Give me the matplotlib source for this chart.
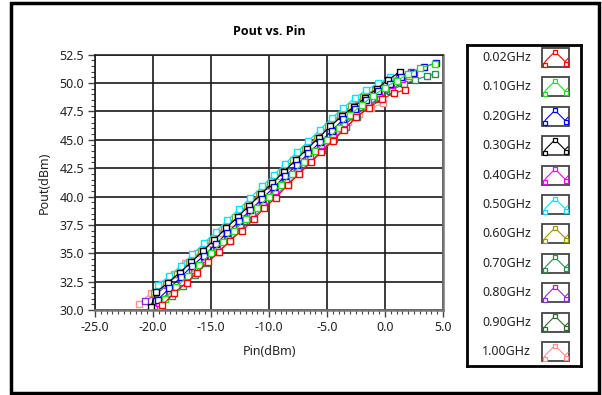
import matplotlib
matplotlib.use("Agg")
import matplotlib.pyplot as plt
from matplotlib.patches import Rectangle
from matplotlib.ticker import MultipleLocator, FormatStrFormatter

plt.rcParams['font.family'] = ['Noto Sans', 'DejaVu Sans']
plt.rcParams['axes.unicode_minus'] = False

# data (Pin dBm, Pout dBm)
labels = ['0.02GHz', '0.10GHz', '0.20GHz', '0.30GHz', '0.40GHz', '0.50GHz',
          '0.60GHz', '0.70GHz', '0.80GHz', '0.90GHz', '1.00GHz']
colors = ['#ff0000', '#22dd22', '#0000ff', '#000000', '#ff00ff', '#00e5ff',
          '#9a9a00', '#2e8b57', '#8a2be2', '#2f6b2f', '#ff9090']

pin_002 = [-19.2, -18.2, -17.1, -16.2, -15.3, -14.3, -13.4, -12.3, -11.3, -10.4, -9.4,
           -8.4, -7.4, -6.4, -5.5, -4.5, -3.5, -2.5, -1.4, -0.3, 0.8, 1.7]
pout_002 = [30.4, 31.5, 32.4, 33.3, 34.2, 35.1, 36.1, 37.0, 38.0, 39.0, 39.9,
            41.0, 42.0, 43.0, 43.9, 44.9, 45.9, 47.0, 47.8, 48.6, 49.1, 49.4]

pin_010 = [-19.0, -18.0, -17.0, -16.0, -15.0, -14.0, -13.0, -12.0, -11.0, -10.0, -9.0, -8.0,
           -7.0, -6.0, -5.0, -4.0, -3.0, -2.0, -1.0, 0.0, 1.0, 2.0, 3.0, 4.3]
pout_010 = [31.0, 32.0, 33.0, 34.0, 35.0, 36.0, 37.0, 38.0, 39.0, 40.0, 41.0, 42.0,
            43.0, 44.0, 45.0, 46.0, 47.2, 48.1, 48.9, 49.6, 50.2, 50.8, 51.3, 51.7]

pin_020 = [-19.6, -18.6, -17.6, -16.6, -15.6, -14.6, -13.6, -12.6, -11.6, -10.6, -9.6, -8.6, -7.6,
           -6.6, -5.6, -4.6, -3.6, -2.6, -1.6, -0.6, 0.4, 1.4, 2.4, 3.4, 4.4]
pout_020 = [30.9, 31.9, 32.9, 33.9, 34.8, 35.8, 36.8, 37.8, 38.8, 39.8, 40.8, 41.8, 42.8,
            43.8, 44.8, 45.8, 46.8, 47.7, 48.5, 49.3, 49.9, 50.5, 50.9, 51.4, 51.8]

pin_030 = [-20.2, -19.7, -18.7, -17.7, -16.7, -15.7, -14.7, -13.7, -12.7, -11.7, -10.7, -9.7,
           -8.7, -7.7, -6.7, -5.7, -4.7, -3.7, -2.7, -1.7, -0.7, 0.3, 1.3]
pout_030 = [30.3, 31.6, 32.4, 33.3, 34.2, 35.2, 36.2, 37.2, 38.2, 39.2, 40.2, 41.2,
            42.2, 43.2, 44.2, 45.2, 46.2, 47.1, 47.9, 48.7, 49.5, 50.3, 51.0]

pin_040 = [-19.5, -18.5, -17.5, -16.5, -15.5, -14.5, -13.5, -12.5, -11.5, -10.5, -9.5, -8.5,
           -7.5, -6.5, -5.5, -4.5, -3.5, -2.5, -1.5, -0.5, 0.5, 1.5, 2.5]
pout_040 = [30.6, 31.5, 32.5, 33.5, 34.5, 35.5, 36.5, 37.5, 38.5, 39.5, 40.5, 41.5,
            42.5, 43.5, 44.5, 45.5, 46.5, 47.4, 48.3, 49.1, 49.8, 50.4, 50.9]

pin_050 = [-19.6, -18.6, -17.6, -16.6, -15.6, -14.6, -13.6, -12.6, -11.6, -10.6, -9.6,
           -8.6, -7.6, -6.6, -5.6, -4.6, -3.6, -2.6, -1.6, -0.6, 0.4]
pout_050 = [32.2, 33.0, 33.9, 34.9, 35.9, 36.9, 37.9, 38.9, 39.9, 40.9, 41.9,
            42.9, 43.9, 44.9, 45.9, 46.9, 47.8, 48.7, 49.4, 50.0, 50.5]

pin_060 = [-19.9, -18.9, -17.9, -16.9, -15.9, -14.9, -13.9, -12.9, -11.9, -10.9, -9.9, -8.9,
           -7.9, -6.9, -5.9, -4.9, -3.9, -2.9, -1.9, -0.9, 0.1, 1.1, 2.1]
pout_060 = [31.5, 32.3, 33.2, 34.2, 35.2, 36.2, 37.2, 38.2, 39.2, 40.2, 41.2, 42.2,
            43.2, 44.2, 45.2, 46.2, 47.2, 48.0, 48.8, 49.4, 49.9, 50.3, 50.6]

pin_070 = [-19.4, -18.4, -17.4, -16.4, -15.4, -14.4, -13.4, -12.4, -11.4, -10.4, -9.4, -8.4, -7.4,
           -6.4, -5.4, -4.4, -3.4, -2.4, -1.4, -0.4, 0.6, 1.6, 2.6, 3.6, 4.3]
pout_070 = [30.2, 31.2, 32.1, 33.1, 34.1, 35.1, 36.1, 37.1, 38.1, 39.1, 40.1, 41.1, 42.1,
            43.1, 44.1, 45.1, 46.1, 47.0, 47.9, 48.7, 49.4, 49.9, 50.3, 50.6, 50.8]

pin_080 = [-20.7, -19.8, -18.8, -17.8, -16.8, -15.8, -14.8, -13.8, -12.8, -11.8, -10.8, -9.8,
           -8.8, -7.8, -6.8, -5.8, -4.8, -3.8, -2.8, -1.8, -0.8, 0.2, 1.2, 2.2]
pout_080 = [30.8, 31.3, 32.2, 33.2, 34.2, 35.2, 36.2, 37.2, 38.2, 39.2, 40.2, 41.2,
            42.2, 43.2, 44.2, 45.2, 46.2, 47.1, 48.0, 48.8, 49.5, 50.1, 50.6, 51.0]

pin_090 = [-19.6, -18.6, -17.6, -16.6, -15.6, -14.6, -13.6, -12.6, -11.6, -10.6, -9.6,
           -8.6, -7.6, -6.6, -5.6, -4.6, -3.6, -2.6, -1.6, -0.6, 0.4, 1.4]
pout_090 = [30.7, 31.5, 32.4, 33.4, 34.4, 35.4, 36.4, 37.4, 38.4, 39.4, 40.4,
            41.4, 42.4, 43.4, 44.4, 45.3, 46.2, 47.1, 47.9, 48.6, 49.3, 50.0]

pin_100 = [-21.2, -20.2, -19.2, -18.2, -17.2, -16.2, -15.2, -14.2, -13.2, -12.2, -11.2,
           -10.2, -9.2, -8.2, -7.2, -6.2, -5.2, -4.2, -3.2, -2.2, -1.2, -0.2]
pout_100 = [30.5, 31.5, 32.3, 33.2, 34.1, 35.0, 35.9, 36.8, 37.7, 38.6, 39.5,
            40.4, 41.3, 42.2, 43.1, 44.0, 44.9, 45.8, 46.6, 47.3, 47.8, 48.2]

pins = [pin_002, pin_010, pin_020, pin_030, pin_040, pin_050,
        pin_060, pin_070, pin_080, pin_090, pin_100]
pouts = [pout_002, pout_010, pout_020, pout_030, pout_040, pout_050,
         pout_060, pout_070, pout_080, pout_090, pout_100]

W, H = 602, 395
fig = plt.figure(figsize=(W / 100, H / 100), dpi=100)

# outer frame
fig.patches.append(Rectangle((11 / W, 2 / H), 588 / W, 390 / H, transform=fig.transFigure,
                             fill=False, edgecolor='black', linewidth=2.5))

ax = fig.add_axes([95 / W, (H - 310) / H, 348 / W, 255.3 / H])
# draw the last series first so the early ones sit on top, like the reference
for pin, pout, c in list(zip(pins, pouts, colors))[::-1]:
    ax.plot(pin, pout, '-s', color=c, lw=0.8, ms=4.0, mfc='white', mew=1.0)

ax.set_xlim(-25, 5)
ax.set_ylim(30, 52.5)
ax.xaxis.set_major_locator(MultipleLocator(5))
ax.xaxis.set_minor_locator(MultipleLocator(0.5))
ax.yaxis.set_major_locator(MultipleLocator(2.5))
ax.yaxis.set_minor_locator(MultipleLocator(0.5))
ax.xaxis.set_major_formatter(FormatStrFormatter('%.1f'))
ax.yaxis.set_major_formatter(FormatStrFormatter('%.1f'))
ax.grid(True, which='major', color='#1a1a1a', lw=1.2)
ax.set_axisbelow(True)
ax.tick_params(which='major', length=5, width=1, color='#444', labelsize=9,
               labelcolor='#222', pad=3)
ax.tick_params(which='minor', length=3, width=0.8, color='#444')
for s in ['left', 'top']:
    ax.spines[s].set_color('#222')
    ax.spines[s].set_linewidth(1.2)
for s in ['right', 'bottom']:
    ax.spines[s].set_color('#777')
    ax.spines[s].set_linewidth(1.8)

ax.set_title('Pout vs. Pin', fontsize=9, fontweight='bold', family=['Open Sans', 'DejaVu Sans'],
             pad=14)
ax.set_xlabel('Pin(dBm)', fontsize=9, color='#222', labelpad=8)
ax.set_ylabel('Pout(dBm)', fontsize=9, color='#222', labelpad=6)

# legend box drawn in pixel coordinates
lg = fig.add_axes([467 / W, (H - 366) / H, 114 / W, 321 / H])
lg.set_xlim(467, 581)
lg.set_ylim(366, 45)
lg.set_xticks([])
lg.set_yticks([])
for s in lg.spines.values():
    s.set_linewidth(2)
    s.set_color('black')

for i, (lab, c) in enumerate(zip(labels, colors)):
    yc = 57.5 + 29.4 * i
    lg.text(531, yc, lab, ha='right', va='center', fontsize=9, color='#222')
    lg.add_patch(Rectangle((542, yc - 9.5), 27, 19, fill=False, edgecolor='#444', lw=1.3))
    lg.plot([544, 546, 555, 565, 568], [yc + 6, yc + 3, yc - 6, yc + 4, yc + 1],
            color=c, lw=0.8)
    lg.plot([545, 555, 565.5], [yc + 7, yc - 6, yc + 6], 's', color=c, ms=3.5,
            mfc='white', mew=0.9)

fig.savefig('out.png', dpi=100)
